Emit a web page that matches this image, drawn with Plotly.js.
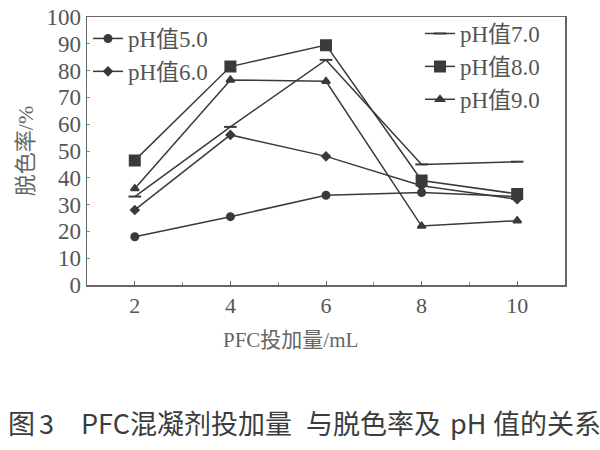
<!DOCTYPE html>
<html><head><meta charset="utf-8">
<script src="https://cdn.plot.ly/plotly-3.0.1.min.js"></script>
<style>body{margin:0;background:#fff}#c{width:600px;height:450px}</style>
</head><body><div id="c"></div>
<script>
var dose = [2, 4, 6, 8, 10];
var names = ['pH值5.0', 'pH值6.0', 'pH值7.0', 'pH值8.0', 'pH值9.0'];
var ph5 = [18, 25.5, 33.5, 34.5, 33];
var ph6 = [28, 56, 48, 37, 32];
var ph7 = [33, 59, 84, 45, 46];
var ph8 = [46.5, 81.5, 89.5, 39, 34];
var ph9 = [36, 76.5, 76, 22, 24];
var yTicks = [0,10,20,30,40,50,60,70,80,90,100];
var xTicks = [2,4,6,8,10];
var captionParts = ['图', '3', 'PFC', '混凝剂投加量', '与脱色率及', 'pH', '值的关系'];

var series = [ph5, ph6, ph7, ph8, ph9];
var symbols = ['circle', 'diamond', 'line-ew-open', 'square', 'triangle-up'];
var sizes = [7, 6, 9, 10, 7];
var legends = ['legend', 'legend', 'legend2', 'legend2', 'legend2'];
var col = '#3a3a3a';
var serif = 'Liberation Serif, "Noto Sans CJK SC", serif';

var traces = series.map(function(s, i){
  return {x: dose, y: s, name: names[i], type: 'scatter', mode: 'lines+markers',
    legend: legends[i],
    line: {color: col, width: 1.5},
    marker: {symbol: symbols[i], size: sizes[i], color: col, line: {color: col, width: 2}}};
});

// plot area in pixels: left 87, right 565, top 15, bottom 285
function px2x(p){ return (p - 87) / 478; }
function px2y(p){ return (285 - p) / 270; }
var capLeft = [6, 37, 79, 128, 304, 448, 491];
var capFont = {size: 27, family: '"Noto Sans CJK SC", sans-serif', color: '#3c3c3c'};
var annots = [
  {text: 'PFC投加量/mL', xref: 'paper', yref: 'paper', x: px2x(290), y: px2y(340),
   xanchor: 'center', yanchor: 'middle', showarrow: false,
   font: {size: 21, family: serif, color: '#666'}}
];
captionParts.forEach(function(t, i){
  annots.push({text: t, xref: 'paper', yref: 'paper', x: px2x(capLeft[i]), y: px2y(424),
    xanchor: 'left', yanchor: 'middle', showarrow: false, font: capFont});
});

var layout = {
  width: 600, height: 450,
  margin: {l: 87, r: 35, t: 15, b: 165},
  paper_bgcolor: '#fff', plot_bgcolor: '#fff',
  font: {family: serif, color: '#555', size: 20},
  showlegend: true,
  xaxis: {range: [1, 11], tickvals: xTicks, ticktext: xTicks.map(String),
    ticks: 'inside', ticklen: 4, tickcolor: '#666',
    minor: {dtick: 1, tick0: 1, ticks: 'inside', ticklen: 3, tickcolor: '#888'},
    showline: true, mirror: true, linecolor: '#666', linewidth: 1.5,
    showgrid: false, zeroline: false, tickfont: {size: 22, family: serif, color: '#555'}},
  yaxis: {range: [0, 100], tickvals: yTicks, ticktext: yTicks.map(String),
    ticks: 'inside', ticklen: 3, tickcolor: '#888',
    showline: true, mirror: true, linecolor: '#666', linewidth: 1.5,
    showgrid: false, zeroline: false, tickfont: {size: 23, family: serif, color: '#555'},
    title: {text: '脱色率/%', font: {size: 22, family: serif, color: '#666'}, standoff: 6}},
  legend: {x: px2x(88), y: px2y(15), xanchor: 'left', yanchor: 'top', bgcolor: 'rgba(0,0,0,0)',
    font: {size: 23, family: serif, color: '#555'}, itemwidth: 30, tracegroupgap: 0},
  legend2: {x: px2x(420), y: px2y(10), xanchor: 'left', yanchor: 'top', bgcolor: 'rgba(0,0,0,0)',
    font: {size: 23, family: serif, color: '#555'}, itemwidth: 30, tracegroupgap: 0},
  annotations: annots
};
Plotly.newPlot('c', traces, layout, {displayModeBar: false, staticPlot: true});
</script></body></html>
